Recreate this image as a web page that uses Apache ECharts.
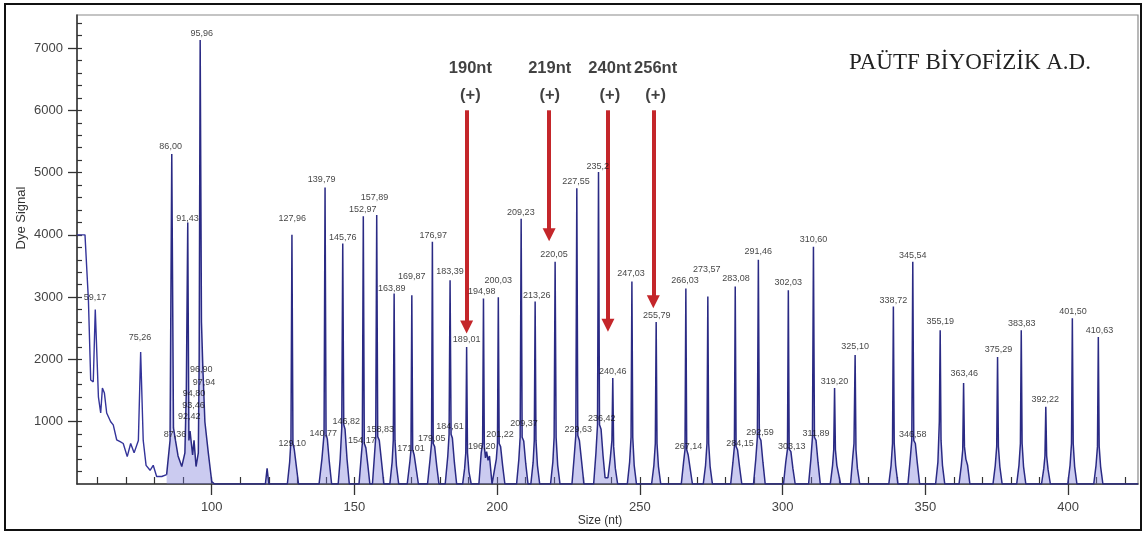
<!DOCTYPE html>
<html>
<head>
<meta charset="utf-8">
<script src="https://cdn.jsdelivr.net/npm/echarts@6/dist/echarts.min.js"></script>
<style>
html,body{margin:0;padding:0;background:#fff;}
#c{width:1144px;height:533px;}
</style>
</head>
<body>
<div id="c"></div>
<script>
// ---- data ----
// baseline noise at the start of the run (size nt, dye signal)
const noiseTrace = [
  [52.8,4000],[55.6,4000],[56.8,2950],[57.6,1670],[58.5,1640],[59.2,2800],[60.3,1400],[61.1,1140],
  [61.7,1540],[62.4,1460],[63.2,1140],[64.6,1000],[65.5,950],[66.7,710],[67.9,680],[69.0,650],
  [70.4,440],[71.6,650],[72.8,500],[74.3,700],[75.1,2120],[76.0,700],[77.0,300],[78.4,220],
  [79.5,300],[80.7,120],[82.5,120],[84.2,150]
];
// fragment peaks (size nt, dye signal)
const peakTrace = [
  [84.2,150],[85.4,700],[86.0,5300],[86.6,900],[87.3,700],[88.2,450],[89.5,280],[90.6,500],
  [91.1,1500],[91.6,4200],[92.0,700],[92.4,850],[93.3,465],[93.8,700],[94.5,280],[95.3,500],
  [95.6,2000],[95.95,7130],[96.4,2600],[96.9,1850],[97.6,1000],[98.8,500],[100.0,40],[101.0,0],
  [118.8,0],[119.4,250],[120.0,0],
  [126.5,0],[127.3,350],[127.75,700],[128.1,4000],[128.45,650],[128.9,560],[129.6,300],[130.4,0],
  [137.6,0],[138.6,400],[139.35,800],[139.7,4760],[140.05,800],[140.5,720],[141.2,350],[142.0,0],
  [144.3,0],[145.0,400],[145.55,900],[145.9,3860],[146.25,950],[146.7,880],[147.4,400],[148.2,0],
  [151.6,0],[152.3,400],[152.75,650],[153.1,4300],[153.45,650],[154.0,580],[154.7,300],[155.4,0],
  [156.3,0],[157.0,450],[157.45,750],[157.8,4320],[158.15,760],[158.7,700],[159.5,350],[160.3,0],
  [162.4,0],[163.2,350],[163.6,700],[163.9,3060],[164.2,700],[164.7,300],[165.5,0],
  [168.5,0],[169.4,350],[169.8,550],[170.1,3030],[170.4,550],[170.9,470],[171.6,250],[172.4,0],
  [175.6,0],[176.5,400],[177.0,650],[177.3,3890],[177.6,650],[178.1,600],[178.8,300],[179.6,0],
  [181.8,0],[182.7,450],[183.15,800],[183.5,3270],[183.85,800],[184.3,740],[185.0,350],[185.8,0],
  [187.9,0],[188.6,250],[189.0,500],[189.3,2200],[189.6,500],[190.1,200],[190.9,0],
  [193.6,0],[194.4,500],[194.9,650],[195.2,2980],[195.5,600],[195.9,420],[196.3,520],[196.8,380],[197.3,450],[198.2,0],
  [198.9,0],[199.7,400],[200.1,650],[200.4,3000],[200.7,650],[201.2,600],[201.9,300],[202.7,0],
  [206.8,0],[207.6,400],[208.05,750],[208.4,4260],[208.75,750],[209.3,690],[210.0,330],[210.8,0],
  [211.8,0],[212.6,350],[213.0,700],[213.3,2930],[213.6,700],[214.1,300],[214.9,0],
  [218.7,0],[219.5,350],[219.95,750],[220.3,3570],[220.65,750],[221.2,300],[222.0,0],
  [226.2,0],[227.0,450],[227.55,780],[227.9,4750],[228.25,780],[228.8,700],[229.6,350],[230.4,0],
  [233.8,0],[234.6,500],[235.15,950],[235.5,5010],[235.85,950],[236.4,880],[237.1,450],[237.8,100],
  [238.8,100],[239.6,400],[240.2,700],[240.5,1700],[240.8,600],[241.4,250],[242.2,0],
  [245.6,0],[246.4,350],[246.9,750],[247.2,3250],[247.5,750],[248.0,300],[248.8,0],
  [254.1,0],[254.9,300],[255.4,650],[255.7,2600],[256.0,650],[256.5,280],[257.3,0],
  [264.5,0],[265.3,350],[265.8,550],[266.1,3140],[266.4,550],[266.9,470],[267.6,250],[268.4,0],
  [272.2,0],[273.0,300],[273.5,650],[273.8,3010],[274.1,650],[274.6,280],[275.4,0],
  [281.8,0],[282.6,350],[283.1,600],[283.4,3170],[283.7,600],[284.2,550],[284.9,280],[285.7,0],
  [289.8,0],[290.6,400],[291.15,750],[291.5,3600],[291.85,750],[292.4,700],[293.1,350],[293.9,0],
  [300.3,0],[301.1,350],[301.7,560],[302.0,3110],[302.3,560],[302.9,520],[303.6,250],[304.4,0],
  [309.1,0],[309.9,400],[310.45,750],[310.8,3810],[311.15,750],[311.7,700],[312.4,350],[313.2,0],
  [316.7,0],[317.5,300],[317.9,550],[318.2,1540],[318.5,550],[319.0,300],[319.6,280],[320.3,0],
  [323.8,0],[324.6,450],[325.0,650],[325.4,2070],[325.7,550],[326.2,250],[327.0,0],
  [337.2,0],[338.0,300],[338.5,650],[338.8,2850],[339.1,650],[339.6,300],[340.4,0],
  [343.9,0],[344.7,400],[345.25,700],[345.6,3570],[345.95,700],[346.5,650],[347.2,330],[348.0,0],
  [353.6,0],[354.4,350],[354.9,1000],[355.2,2470],[355.5,700],[356.0,300],[356.8,0],
  [361.8,0],[362.6,300],[363.1,550],[363.4,1620],[363.7,600],[364.2,400],[364.8,300],[365.6,0],
  [373.7,0],[374.5,300],[375.0,600],[375.3,2040],[375.6,600],[376.1,280],[376.9,0],
  [382.0,0],[382.8,300],[383.3,650],[383.6,2470],[383.9,650],[384.4,280],[385.2,0],
  [390.7,0],[391.5,250],[391.9,450],[392.2,1240],[392.5,450],[393.0,230],[393.8,0],
  [399.9,0],[400.7,300],[401.2,650],[401.5,2660],[401.8,650],[402.3,280],[403.1,0],
  [409.0,0],[409.8,300],[410.3,600],[410.6,2360],[410.9,600],[411.4,280],[412.2,0],
  [424.5,0]
];
// peak size calls written on the trace (where each call sits)
const labelText = ['59,17','75,26','86,00','87,36','91,43','92,42','93,46','94,80','97,94','96,90','95,96',
  '127,96','129,10','139,79','140,77','145,76','146,82','152,97','154,17','157,89','158,83','163,89',
  '169,87','171,01','176,97','179,05','183,39','184,61','189,01','194,98','196,20','200,03','201,22',
  '209,23','209,37','213,26','220,05','227,55','229,63','235,2','236,42','240,46','247,03','255,79',
  '266,03','267,14','273,57','283,08','284,15','291,46','292,59','302,03','303,13','310,60','311,89',
  '319,20','325,10','338,72','345,54','346,58','355,19','363,46','375,29','383,83','392,22','401,50','410,63'];
const labelSize = [59.1,74.9,85.6,87.1,91.5,92.1,93.6,93.8,97.3,96.3,96.5,
  128.2,128.2,138.5,139.1,145.9,147.1,152.9,152.6,157.0,159.0,163.1,
  170.1,169.8,177.6,177.1,183.5,183.5,189.3,194.6,194.6,200.4,201.0,
  208.3,209.4,213.9,219.9,227.6,228.4,235.2,236.6,240.5,246.9,255.9,
  265.8,267.0,273.4,283.7,285.1,291.5,292.1,302.0,303.2,310.8,311.7,
  318.2,325.4,338.8,345.6,345.6,355.2,363.6,375.6,383.8,392.0,401.7,411.0];
const labelSignal = [2920,2280,5345,715,4190,1010,1195,1380,1560,1760,7160,
  4190,580,4810,740,3885,930,4335,625,4525,795,3065,
  3260,500,3925,660,3340,850,2250,3020,530,3200,715,
  4285,900,2960,3620,4780,795,5030,980,1735,3305,2640,
  3200,530,3370,3225,580,3660,755,3160,530,3850,740,
  1570,2135,2880,3600,715,2535,1695,2085,2505,1285,2695,2400];
// positive-fragment annotations
const annotText = ['190nt','219nt','240nt','256nt'];
const annotSize = [190.6,218.4,239.5,255.5];
const annotSignal = 6461;
const arrowSize = [189.3,218.2,238.8,254.7];
const arrowTop = 6000;
const arrowTip = [2520,4000,2550,2925];
// axis ticks
const xLabels = [100,150,200,250,300,350,400];
const xMinor = [60,70,80,90,100,110,120,130,140,150,160,170,180,190,200,210,220,230,240,250,260,270,280,290,300,310,320,330,340,350,360,370,380,390,400,410,420];
const yLabels = [1000,2000,3000,4000,5000,6000,7000];
const yMinor = [];
for (let v = 200; v <= 7400; v += 200) yMinor.push(v);
const xMin = 52.8, xMax = 424.5, yMax = 7530;

const chart = echarts.init(document.getElementById('c'), null, {renderer:'canvas'});
const axisColor = '#333';
const font = '"Liberation Sans", Arial, sans-serif';
chart.setOption({
  animation:false,
  backgroundColor:'#fff',
  grid:{left:77,right:6,top:15,bottom:49,show:true,borderColor:'#8a8a8a',borderWidth:1.2,backgroundColor:'transparent'},
  xAxis:[{
    type:'value',min:xMin,max:xMax,
    axisLine:{show:true,lineStyle:{color:axisColor,width:1.5}},
    axisTick:{show:true,inside:false,length:11,customValues:xLabels,lineStyle:{color:axisColor,width:1.3}},
    axisLabel:{show:true,customValues:xLabels,margin:17,fontFamily:font,fontSize:13,color:'#444',formatter:v=>String(v)},
    splitLine:{show:false}
  },{
    type:'value',min:xMin,max:xMax,position:'bottom',
    axisLine:{show:false},
    axisTick:{show:true,inside:true,length:7,customValues:xMinor,lineStyle:{color:axisColor,width:1.2}},
    axisLabel:{show:false},splitLine:{show:false}
  }],
  yAxis:[{
    type:'value',min:0,max:yMax,
    axisLine:{show:true,lineStyle:{color:axisColor,width:1.5}},
    axisTick:{show:true,inside:false,length:9,customValues:yLabels,lineStyle:{color:axisColor,width:1.3}},
    axisLabel:{show:true,customValues:yLabels,margin:14,fontFamily:font,fontSize:13,color:'#444',formatter:v=>String(v)},
    splitLine:{show:false}
  },{
    type:'value',min:0,max:yMax,position:'left',
    axisLine:{show:false},
    axisTick:{show:true,inside:true,length:5,customValues:yMinor,lineStyle:{color:axisColor,width:1.2}},
    axisLabel:{show:false},splitLine:{show:false}
  }],
  series:[{
    name:'noise',type:'line',data:noiseTrace,showSymbol:false,symbol:'none',
    lineStyle:{color:'#34349a',width:1.4},z:3
  },{
    name:'peaks',type:'line',data:peakTrace,showSymbol:false,symbol:'none',
    lineStyle:{color:'#2a2a84',width:1.5},
    areaStyle:{color:'rgba(120,120,215,0.55)'},z:3
  },{
    name:'calls',type:'scatter',symbolSize:0,z:5,
    data:labelSize.map((s,i)=>({value:[s,labelSignal[i]],name:labelText[i]})),
    label:{show:true,position:'top',distance:0,formatter:p=>p.name,
      fontFamily:font,fontSize:9,color:'#111'}
  },{
    name:'annot',type:'scatter',symbolSize:0,z:6,
    data:annotSize.map((s,i)=>({value:[s,annotSignal],name:annotText[i]})),
    label:{show:true,position:'inside',formatter:p=>p.name+'\n(+)',
      fontFamily:font,fontSize:16.5,fontWeight:'bold',lineHeight:27,color:'#111'}
  },{
    name:'arrows',type:'line',data:[],z:8,
    markLine:{
      silent:true,animation:false,
      symbol:['none','triangle'],symbolSize:[13,13],
      label:{show:false},
      lineStyle:{color:'#c4262a',width:4,type:'solid'},
      data:arrowSize.map((s,i)=>[{coord:[s,arrowTop]},{coord:[s,arrowTip[i]]}])
    }
  }],
  graphic:[{
    type:'rect',shape:{x:5,y:4,width:1136,height:526},
    style:{fill:'none',stroke:'#111',lineWidth:2},z:100
  },{
    type:'text',x:970,y:63,
    style:{text:'PAÜTF BİYOFİZİK A.D.',textAlign:'center',textVerticalAlign:'middle',
      font:'23px "Liberation Serif", "Times New Roman", serif',fill:'#222'},z:100
  },{
    type:'text',x:21,y:218,rotation:Math.PI/2,
    style:{text:'Dye Signal',textAlign:'center',textVerticalAlign:'middle',
      font:'13px "Liberation Sans", Arial, sans-serif',fill:'#333'},z:100
  },{
    type:'text',x:600,y:521,
    style:{text:'Size (nt)',textAlign:'center',textVerticalAlign:'middle',
      font:'12px "Liberation Sans", Arial, sans-serif',fill:'#333'},z:100
  }]
});
</script>
</body>
</html>
